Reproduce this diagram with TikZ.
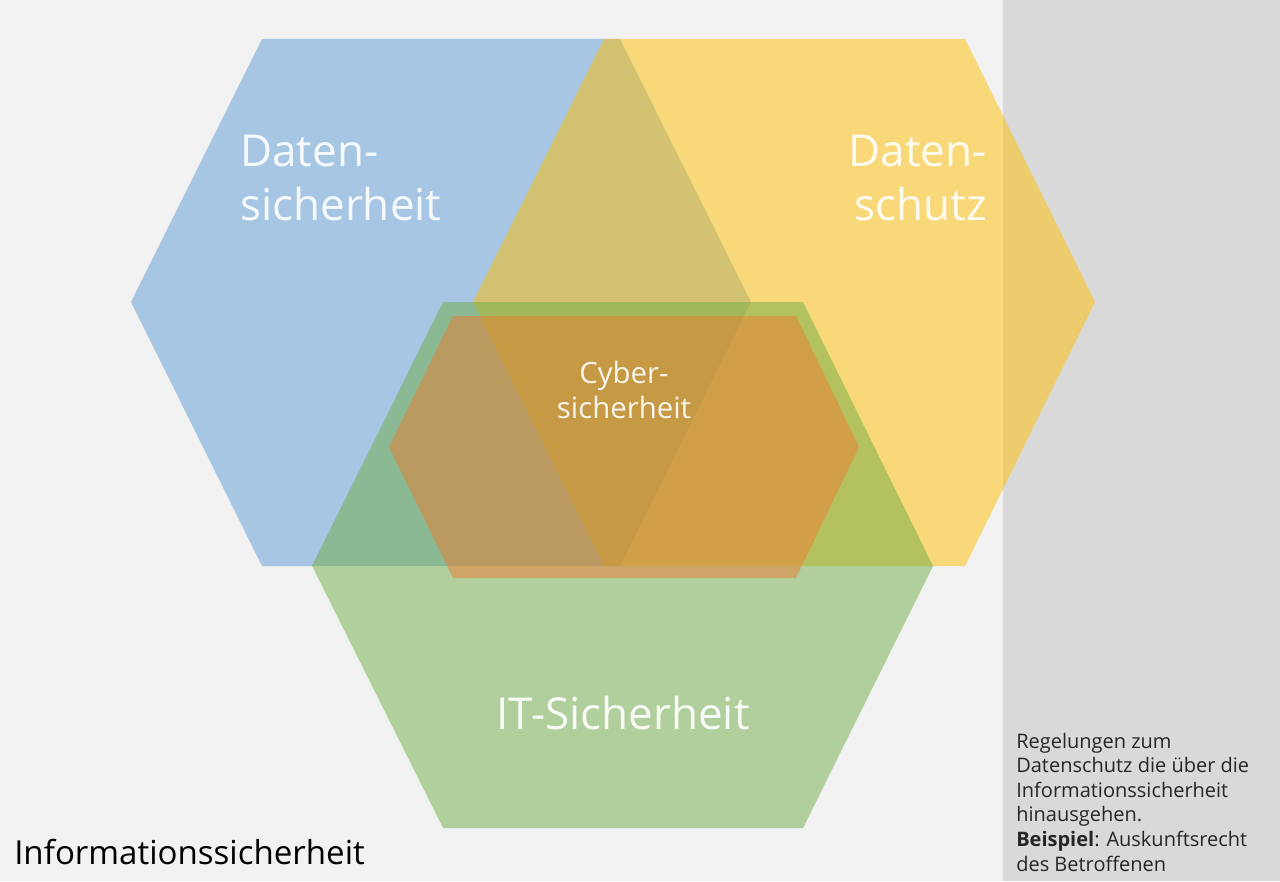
\documentclass[tikz,border=0pt]{standalone}
\usepackage{fontspec}
\setmainfont{Open Sans}
\definecolor{bgLight}{RGB}{242,242,242}
\definecolor{bgPanel}{RGB}{217,217,217}
\definecolor{hexBlue}{RGB}{91,155,213}
\definecolor{hexGold}{RGB}{255,192,0}
\definecolor{hexGreen}{RGB}{112,173,71}
\definecolor{hexOrange}{RGB}{237,125,49}
\begin{document}
\begin{tikzpicture}[x=0.75pt,y=0.75pt,yscale=-1,xscale=1,
  hex/.style={draw=none,fill opacity=0.5},
  biglabel/.style={inner sep=0pt,text=white,text opacity=0.9,font=\fontsize{33}{40}\selectfont},
  smalllabel/.style={inner sep=0pt,text=white,text opacity=0.9,font=\fontsize{22}{26}\selectfont},
  notelabel/.style={inner sep=0pt,text=black!85,align=left,font=\fontsize{15}{18.45}\selectfont}]
\useasboundingbox (0,0) rectangle (1280,881);

%Shape: Background
\fill [bgLight] (0,0) rectangle (1003,881);
\fill [bgPanel] (1003,0) rectangle (1280,881);

%Shape: Hexagon blue
\draw [hex,fill=hexBlue] (131,302) -- (262,39) -- (620,39) -- (751,302) -- (620,566) -- (262,566) -- cycle ;
%Shape: Hexagon gold
\draw [hex,fill=hexGold] (473,302) -- (604,39) -- (965,39) -- (1095,302) -- (965,566) -- (604,566) -- cycle ;
%Shape: Hexagon green
\draw [hex,fill=hexGreen] (312,566) -- (443,302) -- (803,302) -- (933,566) -- (803,828) -- (443,828) -- cycle ;
%Shape: Hexagon orange
\draw [hex,fill=hexOrange] (389,447) -- (453,316) -- (796,316) -- (859,447) -- (796,578) -- (453,578) -- cycle ;

% Text Node
\node (datsich) [biglabel,anchor=base west,align=left] at (240,220) {Daten-\\sicherheit};
% Text Node
\node (datschutz) [biglabel,anchor=base east,align=right] at (987,220) {Daten-\\schutz};
% Text Node
\node (cyber) [smalllabel,anchor=base,align=center] at (624,418) {Cyber-\\sicherheit};
% Text Node
\node (itsich) [biglabel,anchor=base] at (623,729) {IT-Sicherheit};
% Text Node
\node (infosich) [inner sep=0pt,anchor=base west,font=\fontsize{24.8}{28}\selectfont] at (14,864) {Informationssicherheit};
% Text Node
\node (note) [notelabel,anchor=base west] at (1016,871) {Regelungen zum\\Datenschutz die über die\\Informationssicherheit\\hinausgehen.\\\textbf{Beispiel}: Auskunftsrecht\\des Betroffenen};

\end{tikzpicture}
\end{document}
